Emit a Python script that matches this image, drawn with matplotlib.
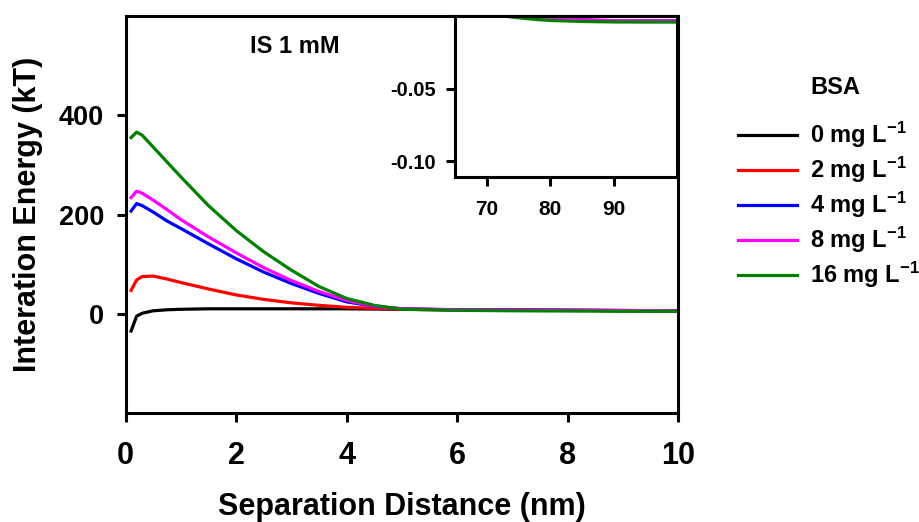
import numpy as np
import matplotlib
matplotlib.use("Agg")
import matplotlib.pyplot as plt

plt.rcParams['font.family'] = ['Liberation Sans', 'DejaVu Sans']
plt.rcParams['font.weight'] = 'bold'
plt.rcParams['axes.labelweight'] = 'bold'
plt.rcParams['mathtext.fontset'] = 'custom'
plt.rcParams['mathtext.rm'] = 'Liberation Sans:bold'
plt.rcParams['mathtext.it'] = 'Liberation Sans:bold'
plt.rcParams['mathtext.bf'] = 'Liberation Sans:bold'
plt.rcParams['mathtext.default'] = 'rm'

# separation distance (nm) for the near-field curves
dist = [0.1, 0.2, 0.3, 0.5, 0.75, 1.0, 1.5, 2.0, 2.5, 3.0, 3.5, 4.0, 4.5, 5.0,
        6.0, 7.0, 8.0, 9.0, 10.0]

# interaction energy (kT) for each BSA concentration
e_0 = [-35, -5, 1, 6, 8, 9, 10, 10, 10, 10, 10, 10, 9.5, 9, 8, 7.5, 7, 6.5, 6]
e_2 = [47, 68, 75, 76, 70, 63, 50, 38, 29, 22, 17, 13, 11, 9, 8, 7.5, 7, 6.5, 6]
e_4 = [207, 222, 218, 205, 187, 172, 141, 111, 84, 61, 41, 24, 15, 10, 8, 7.5, 7, 6.5, 6]
e_8 = [234, 247, 243, 229, 210, 190, 155, 123, 93, 67, 45, 27, 15, 10, 8, 7.5, 7, 6.5, 6]
e_16 = [355, 366, 360, 336, 306, 276, 218, 168, 125, 88, 55, 31, 17, 9, 7, 6, 5.5, 5, 5]

# far-field part (secondary minimum region)
dist_far = [72.0, 74.0, 76.0, 78.0, 80.0, 85.0, 90.0, 95.0, 100.0]
far_0 = [0.002, 0.0008, -0.0002, -0.0012, -0.0020, -0.0030, -0.0034, -0.0035, -0.0036]
far_2 = [0.0025, 0.0012, 0.0002, -0.0010, -0.0019, -0.0029, -0.0033, -0.0034, -0.0035]
far_4 = [0.0028, 0.0014, 0.0004, -0.0008, -0.0018, -0.0028, -0.0032, -0.0034, -0.0035]
far_8 = [0.003, 0.0016, 0.0005, -0.0007, -0.0017, -0.0027, -0.0032, -0.0033, -0.0034]
far_16 = [0.0005, -0.0008, -0.0017, -0.0025, -0.0031, -0.0038, -0.0041, -0.0042, -0.0042]

labels = ['0 mg L$^{-1}$', '2 mg L$^{-1}$', '4 mg L$^{-1}$', '8 mg L$^{-1}$', '16 mg L$^{-1}$']
colors = ['black', '#ff0000', '#0000ff', '#ff00ff', '#008000']
near = [e_0, e_2, e_4, e_8, e_16]
far = [far_0, far_2, far_4, far_8, far_16]

fig = plt.figure(figsize=(9.19, 5.22), dpi=100)
ax = fig.add_axes([0.1366, 0.2088, 0.6012, 0.7605])

for y, c, lab in zip(near, colors, labels):
    ax.plot(dist, y, color=c, lw=2.3, label=lab)

ax.set_xlim(0, 10)
ax.set_ylim(-200, 600)
ax.set_xticks([0, 2, 4, 6, 8, 10])
ax.set_yticks([0, 200, 400])
for s in ax.spines.values():
    s.set_linewidth(2.2)
ax.tick_params(axis='both', direction='out', length=6.5, width=2.2,
               top=False, right=False)
ax.tick_params(axis='x', labelsize=22, pad=14)
ax.tick_params(axis='y', labelsize=19.5, pad=9)
ax.set_xlabel('Separation Distance (nm)', fontsize=22, labelpad=15)
ax.set_ylabel('Interation Energy (kT)', fontsize=22, labelpad=11)
ax.text(0.225, 0.922, 'IS 1 mM', transform=ax.transAxes, fontsize=17,
        ha='left', va='center')

leg = ax.legend(loc='upper left', bbox_to_anchor=(738 / 919, 1 - 120 / 522),
                bbox_transform=fig.transFigure, frameon=False, fontsize=17,
                handlelength=2.5, handletextpad=0.55, labelspacing=0.2,
                borderpad=0, borderaxespad=0)
fig.text(810 / 919, 1 - 87 / 522, 'BSA', fontsize=17, ha='left', va='center')

# inset: behaviour at large separation
axin = fig.add_axes([0.4951, 0.66, 0.2421, 0.3094])
for y, c in zip(far, colors):
    axin.plot(dist_far, y, color=c, lw=2.3)
axin.set_xlim(65, 100)
axin.set_ylim(-0.111, 0)
axin.set_xticks([70, 80, 90])
axin.set_yticks([-0.05, -0.10])
axin.set_yticklabels(['-0.05', '-0.10'])
for s in axin.spines.values():
    s.set_linewidth(2.2)
axin.tick_params(axis='both', direction='out', length=6.5, width=2.2,
                 top=False, right=False)
axin.tick_params(axis='x', labelsize=15, pad=10)
axin.tick_params(axis='y', labelsize=14.5, pad=7)

fig.savefig('out.png', dpi=100)
